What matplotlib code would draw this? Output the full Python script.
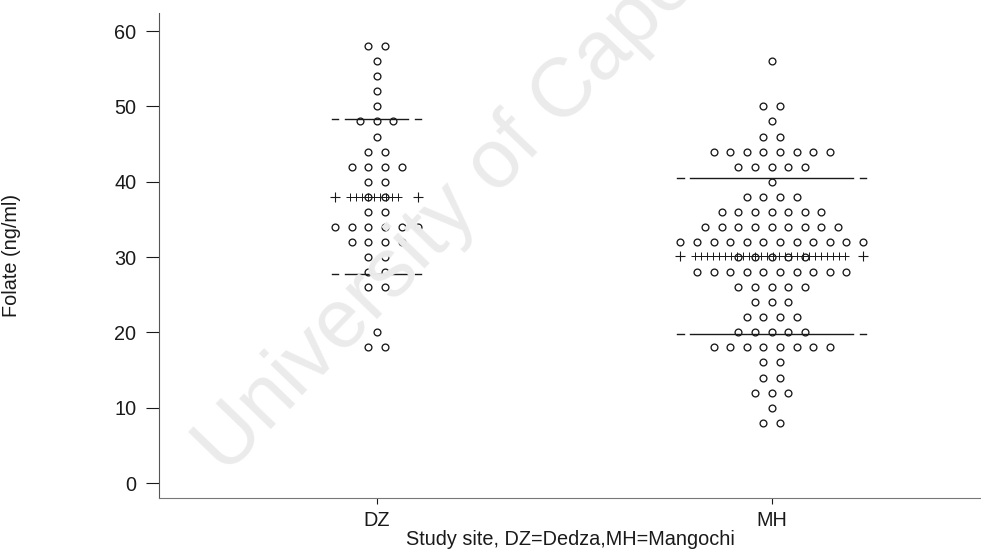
"""
Dot plot of folate by study site (Dedza vs Mangochi)
"""

# Imports
import numpy
import matplotlib
matplotlib.use('Agg')
import matplotlib.pyplot as plt

# Font
plt.rcParams['font.family'] = ['Liberation Sans', 'DejaVu Sans']

# Data: folate value of each row and number of dots in it
sites = ['DZ', 'MH']
dz_folate = [58, 56, 54, 52, 50, 48, 46, 44, 42, 40, 38, 36, 34, 32, 30, 28, 26, 20, 18]
dz_count = [2, 1, 1, 1, 1, 3, 1, 2, 4, 2, 2, 2, 6, 4, 2, 2, 2, 1, 2]
mh_folate = [56, 50, 48, 46, 44, 42, 40, 38, 36, 34, 32, 30, 28, 26, 24, 22, 20, 18, 16, 14, 12, 10, 8]
mh_count = [1, 2, 1, 2, 8, 5, 1, 4, 7, 9, 12, 5, 10, 5, 3, 4, 5, 8, 2, 2, 3, 1, 2]
y_ticks = [0, 10, 20, 30, 40, 50, 60]

ink = '#1a1a1a'
step = 0.042  # horizontal distance between dots, in x units

# Figure
fig = plt.figure(figsize=(9.81, 5.5), dpi=100)
ax = fig.add_axes([159 / 981, 1 - 498 / 550, 1 - 159 / 981, (498 - 13) / 550])
ax.set_facecolor('none')

# Watermark
fig.text(226 / 981, 1 - 476 / 550, 'University of Cape Town', fontsize=60,
         color='#ebebeb', rotation=46, rotation_mode='anchor',
         ha='left', va='baseline', zorder=0)

groups = [(dz_folate, dz_count), (mh_folate, mh_count)]
for gi, (vals, counts) in enumerate(groups):
    center = gi + 1

    # Dots
    for v, n in zip(vals, counts):
        xs = center + (numpy.arange(n) - (n - 1) / 2) * step
        ax.plot(xs, [v] * n, 'o', ms=4.9, mfc='none', mec=ink, mew=0.95,
                linestyle='none', zorder=3)

    # Mean and mean +/- SD
    data = numpy.repeat(vals, counts)
    mean = data.mean()
    sd = data.std(ddof=1)
    hw = (max(counts) - 1) / 2 * step

    # Mean line of pluses
    ax.plot([center - hw, center + hw], [mean, mean], '+', ms=6.5, mew=0.8,
            color=ink, linestyle='none', zorder=4)
    xs = numpy.arange(center - hw + 0.9 * step, center + hw - 0.9 * step + 1e-9, 0.36 * step)
    ax.plot(xs, [mean] * len(xs), '+', ms=6, mew=0.7, color=ink, lw=0.7,
            linestyle='-', zorder=4)

    # SD lines
    for yl in [mean - sd, mean + sd]:
        for side in [-1, 1]:
            ax.plot([center + side * hw - 0.2 * step, center + side * hw + 0.2 * step],
                    [yl, yl], color=ink, lw=1.0, zorder=4)
        ax.plot([center - hw + 0.6 * step, center + hw - 0.6 * step], [yl, yl],
                color=ink, lw=1.0, zorder=4)

# Axes
ax.set_xlim(0.449, 0.449 + 822 / 395)
ax.set_ylim(-1.99, 62.4)
ax.set_xticks([1, 2])
ax.set_xticklabels(sites)
ax.set_yticks(y_ticks)
ax.tick_params(axis='y', length=9.4, width=0.8, pad=7, labelsize=14.3, colors=ink)
ax.tick_params(axis='x', length=4.5, width=0.8, pad=5, labelsize=14.3, colors=ink)
for side in ['top', 'right']:
    ax.spines[side].set_visible(False)
ax.spines['left'].set_color('#555555')
ax.spines['left'].set_linewidth(0.8)
ax.spines['bottom'].set_color('#777777')
ax.spines['bottom'].set_linewidth(0.8)

ax.set_xlabel('Study site, DZ=Dedza,MH=Mangochi', fontsize=14.3, color=ink, labelpad=0)
ax.set_ylabel('Folate (ng/ml)', fontsize=14.3, color=ink, labelpad=0)
ax.yaxis.set_label_coords(-(159 - 21) / 822, 0.5)

plt.savefig('out.png', dpi=100)
plt.close()
